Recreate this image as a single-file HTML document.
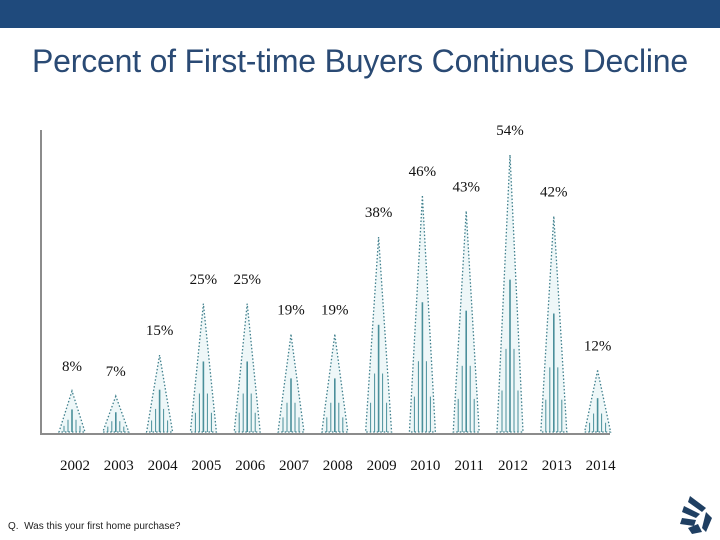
<!DOCTYPE html>
<html><head><meta charset="utf-8"><style>
body{margin:0;width:720px;height:540px;background:#fff;overflow:hidden;font-family:"Liberation Sans",sans-serif;position:relative}
#topbar{position:absolute;left:0;top:0;width:720px;height:28px;background:#1f4a7c}
#title{position:absolute;left:0;width:720px;top:43px;text-align:center;font-size:32px;color:#2a4a74;letter-spacing:-0.2px}
#note{position:absolute;left:8px;top:521px;font-size:10px;color:#222}
</style></head><body>
<div id="topbar"></div>
<div id="title">Percent of First-time Buyers Continues Decline</div>
<svg id="chart" width="720" height="540" style="position:absolute;left:0;top:0"></svg>
<div id="note">Q.&nbsp; Was this your first home purchase?</div>
<svg style="position:absolute;left:676px;top:488px" width="40" height="48">
<g fill="#1f3f62"><polygon points="14,8 30,20 26,24 12,14"/><polygon points="8,18 24,26 20,30 6,24"/><polygon points="6,30 20,32 18,38 4,36"/><polygon points="12,40 22,36 26,44 16,46"/><polygon points="30,24 36,30 30,44 26,40"/></g></svg>
<script>
const categories=["2002","2003","2004","2005","2006","2007","2008","2009","2010","2011","2012","2013","2014"];
const values=[8,7,15,25,25,19,19,38,46,43,54,42,12];
const NS="http://www.w3.org/2000/svg";
const svg=document.getElementById('chart');
const x0=41,x1=610,yBase=434,yTop=130;
const step=43.8, first=72;
function xPos(i){return first+i*step;}
function yPos(v){return 432-v*5.13;}
function mk(t,a){const e=document.createElementNS(NS,t);for(const k in a)e.setAttribute(k,a[k]);svg.appendChild(e);return e;}
const ax=mk('path',{d:`M${x0} ${yTop}V${yBase}H${x1}`,stroke:'#8c8c8c','stroke-width':2,fill:'none'});


categories.forEach((c,i)=>{
  const cx=xPos(i),top=yPos(values[i]),hw=13;
  const g=mk('g',{});
  
  
  const tri=document.createElementNS(NS,'polygon');
  tri.setAttribute('points',`${cx},${top} ${cx-hw},432 ${cx+hw},432`);
  tri.setAttribute('fill','#eef7f8');tri.setAttribute('stroke','#3f7f8c');tri.setAttribute('stroke-width','1.3');tri.setAttribute('stroke-dasharray','1.5 2');
  g.appendChild(tri);
  const h=432-top;
  [[0,0.55,1.6],[-4,0.3,1],[4,0.3,1],[-8,0.15,1],[8,0.15,1]].forEach(([dx,f,w])=>{
    const l=document.createElementNS(NS,'line');
    l.setAttribute('x1',cx+dx);l.setAttribute('x2',cx+dx);l.setAttribute('y1',432);l.setAttribute('y2',432-h*f);
    l.setAttribute('stroke','#4a8f9a');l.setAttribute('stroke-width',w);g.appendChild(l);
  });
  svg.appendChild(g);
  const lb=mk('text',{x:cx,y:top-20,'text-anchor':'middle','font-size':15,'font-family':'Liberation Serif, serif',fill:'#111'});
  lb.textContent=values[i]+'%';
  
  
  const tl=mk('text',{x:cx+3,y:470,'text-anchor':'middle','font-size':15,'font-family':'Liberation Serif, serif',fill:'#111'});
  tl.textContent=c;
  
  
});
</script>
</body></html>
